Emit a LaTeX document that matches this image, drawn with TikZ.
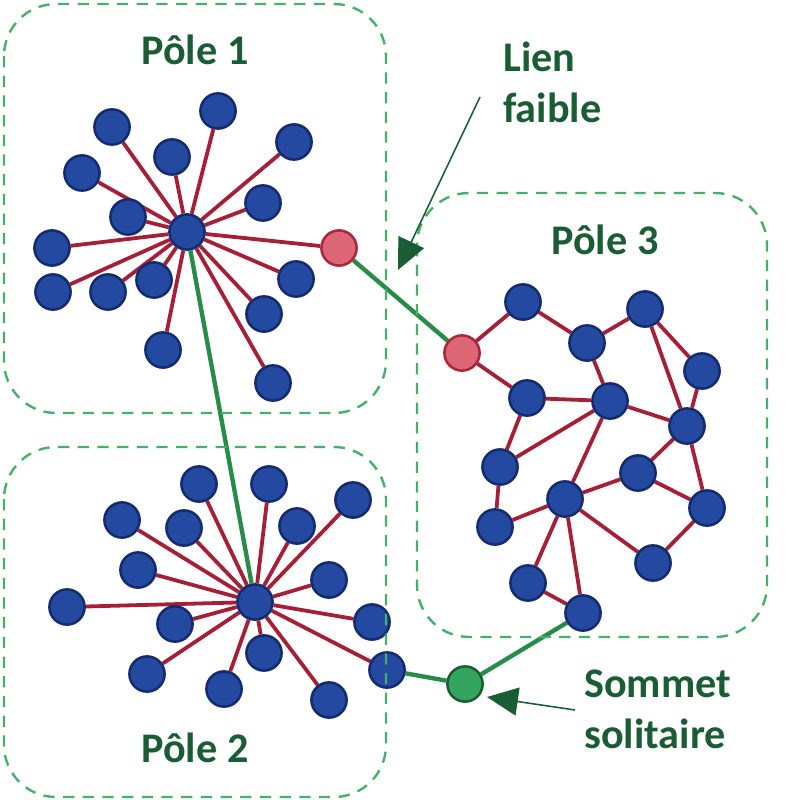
\documentclass[tikz,border=0pt]{standalone}
\usepackage{fontspec}
\setmainfont{Carlito}
\usepackage{xcolor}
\usepackage{tikz}
\usetikzlibrary{arrows.meta, backgrounds}
\definecolor{nodeblue}{RGB}{35,73,160}
\definecolor{nodeline}{RGB}{20,44,110}
\definecolor{spokered}{RGB}{165,32,55}
\definecolor{bridgepink}{RGB}{220,102,118}
\definecolor{bridgeline}{RGB}{170,38,60}
\definecolor{tiegreen}{RGB}{38,140,72}
\definecolor{lonegreen}{RGB}{52,165,95}
\definecolor{boxgreen}{RGB}{70,175,105}
\definecolor{textgreen}{RGB}{26,92,52}
\tikzset{
    vertex/.style={
        circle, draw=nodeline, fill=nodeblue,
        minimum size=0.88cm, inner sep=0pt,
        line width=1.8pt,
    },
    bridgevertex/.style={
        vertex, draw=bridgeline, fill=bridgepink,
    },
    lonevertex/.style={
        vertex, draw=textgreen, fill=lonegreen,
    },
    spoke/.style={
        draw=spokered, line width=2.7pt
    },
    tie/.style={
        draw=tiegreen, line width=3.1pt
    },
    polebox/.style={
        draw=boxgreen, dash pattern=on 8pt off 6pt,
        line width=1.7pt, rounded corners=1.3cm,
    },
    title/.style={
        font=\fontsize{30}{36}\selectfont\bfseries,
        text=textgreen, inner sep=0pt,
    },
    pointer/.style={
        -{Triangle[length=22pt, width=20pt]}, draw=textgreen, line width=1.1pt
    },
}

\begin{document}
\begin{tikzpicture}[x=0.025cm, y=-0.025cm]

    \useasboundingbox (0,0) rectangle (792,800);

    % ── Pôle 1 ──
    \node[vertex] (h1)  at (187,232) {};
    \node[vertex] (a1)  at (112,127) {};
    \node[vertex] (a2)  at (218,111) {};
    \node[vertex] (a3)  at (294,142) {};
    \node[vertex] (a4)  at (172,157) {};
    \node[vertex] (a5)  at (82,173)  {};
    \node[vertex] (a6)  at (263,203) {};
    \node[vertex] (a7)  at (128,217) {};
    \node[vertex] (a8)  at (52,248)  {};
    \node[vertex] (a9)  at (53,292)  {};
    \node[vertex] (a10) at (108,292) {};
    \node[vertex] (a11) at (154,280) {};
    \node[vertex] (a12) at (296,279) {};
    \node[vertex] (a13) at (264,314) {};
    \node[vertex] (a14) at (163,350) {};
    \node[vertex] (a15) at (273,383) {};
    \node[bridgevertex] (r1) at (339,248) {};

    % ── Pôle 2 ──
    \node[vertex] (h2)  at (255,602) {};
    \node[vertex] (b1)  at (199,484) {};
    \node[vertex] (b2)  at (269,484) {};
    \node[vertex] (b3)  at (353,500) {};
    \node[vertex] (b4)  at (122,520) {};
    \node[vertex] (b5)  at (184,528) {};
    \node[vertex] (b6)  at (297,526) {};
    \node[vertex] (b7)  at (138,570) {};
    \node[vertex] (b8)  at (329,580) {};
    \node[vertex] (b9)  at (67,607)  {};
    \node[vertex] (b10) at (175,624) {};
    \node[vertex] (b11) at (372,622) {};
    \node[vertex] (b12) at (264,653) {};
    \node[vertex] (b13) at (147,674) {};
    \node[vertex] (b14) at (224,689) {};
    \node[vertex] (b15) at (387,670) {};
    \node[vertex] (b16) at (329,700) {};

    % ── Pôle 3 ──
    \node[bridgevertex] (r3) at (462,353) {};
    \node[vertex] (c1)  at (523,302) {};
    \node[vertex] (c2)  at (587,343) {};
    \node[vertex] (c3)  at (645,309) {};
    \node[vertex] (c4)  at (702,371) {};
    \node[vertex] (c5)  at (527,398) {};
    \node[vertex] (c6)  at (610,401) {};
    \node[vertex] (c7)  at (687,426) {};
    \node[vertex] (c8)  at (500,467) {};
    \node[vertex] (c9)  at (638,473) {};
    \node[vertex] (c10) at (565,499) {};
    \node[vertex] (c11) at (707,508) {};
    \node[vertex] (c12) at (495,527) {};
    \node[vertex] (c13) at (653,563) {};
    \node[vertex] (c14) at (528,583) {};
    \node[vertex] (c15) at (583,613) {};

    % ── Sommet solitaire ──
    \node[lonevertex] (solo) at (465,684) {};

    % ── Edges ──
    \begin{scope}[on background layer]
        \draw[spoke] (h1) -- (a1) (h1) -- (a2) (h1) -- (a3) (h1) -- (a4)
                     (h1) -- (a5) (h1) -- (a6) (h1) -- (a7) (h1) -- (a8)
                     (h1) -- (a9) (h1) -- (a10) (h1) -- (a11) (h1) -- (a12)
                     (h1) -- (a13) (h1) -- (a14) (h1) -- (a15) (h1) -- (r1);
        \draw[spoke] (h2) -- (b1) (h2) -- (b2) (h2) -- (b3) (h2) -- (b4)
                     (h2) -- (b5) (h2) -- (b6) (h2) -- (b7) (h2) -- (b8)
                     (h2) -- (b9) (h2) -- (b10) (h2) -- (b11) (h2) -- (b12)
                     (h2) -- (b13) (h2) -- (b14) (h2) -- (b15) (h2) -- (b16);
        \draw[spoke] (r3) -- (c1) (r3) -- (c5) (c1) -- (c2) (c2) -- (c3)
                     (c2) -- (c6) (c3) -- (c7) (c3) -- (c4) (c4) -- (c7)
                     (c5) -- (c6) (c5) -- (c8) (c6) -- (c8) (c6) -- (c7)
                     (c6) -- (c10) (c7) -- (c9) (c7) -- (c11) (c9) -- (c11)
                     (c9) -- (c10) (c8) -- (c12) (c12) -- (c10) (c10) -- (c14)
                     (c10) -- (c15) (c10) -- (c13) (c14) -- (c15) (c13) -- (c11);
        \draw[tie] (h1) -- (h2);
        \draw[tie] (r1) -- (r3);
        \draw[tie] (c15) -- (solo) -- (b15);
    \end{scope}

    % ── Group boxes ──
    \draw[polebox] (4,4) rectangle (386,413);
    \draw[polebox] (4,447) rectangle (386,797);
    \draw[polebox] (417,193) rectangle (767,637);

    \node[title] (t1) at (195,50)  {Pôle 1};
    \node[title] (t2) at (195,748) {Pôle 2};
    \node[title] (t3) at (605,240) {Pôle 3};

    % ── Notes ──
    \node[title, align=left, anchor=north west] (lien) at (503,42) {Lien\\faible};
    \node[title, align=left, anchor=north west] (sommet) at (584,670) {Sommet\\solitaire};
    \coordinate (lienfrom) at (480,97);
    \coordinate (liento) at (398,270);
    \coordinate (sommetfrom) at (575,710);
    \coordinate (sommetto) at (487,697);
    \draw[pointer] (lienfrom) -- (liento);
    \draw[pointer] (sommetfrom) -- (sommetto);

\end{tikzpicture}
\end{document}
